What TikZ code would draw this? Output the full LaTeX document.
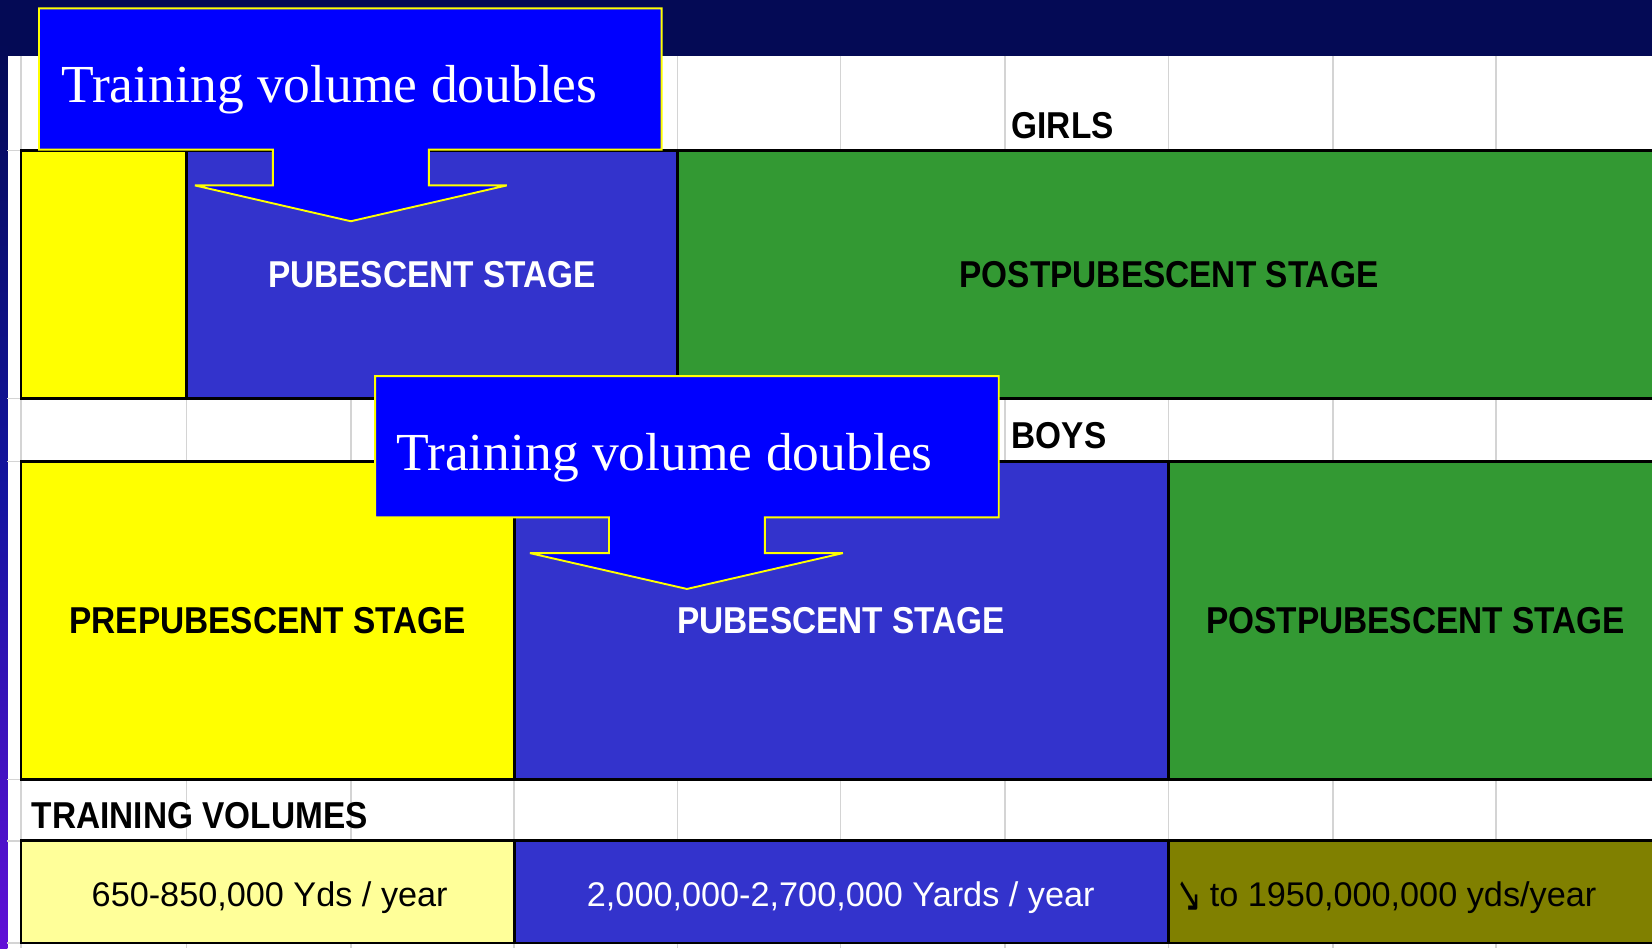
\documentclass[tikz,border=0pt]{standalone}
\usepackage{fontspec}
\usepackage{graphicx}
\setmainfont{Liberation Serif}
\newfontfamily\arialf{Liberation Sans}
\newfontfamily\symf{DejaVu Sans}
\definecolor{navy}{RGB}{4,10,85}
\definecolor{stageblue}{RGB}{51,51,204}
\definecolor{stagegreen}{RGB}{51,153,51}
\definecolor{lightyel}{RGB}{255,255,153}
\definecolor{olivec}{RGB}{128,128,0}
\definecolor{gridgray}{RGB}{212,212,212}
\definecolor{stripp}{RGB}{96,16,215}
\definecolor{stripm}{RGB}{20,20,160}
\definecolor{calloutblue}{RGB}{0,0,255}
\definecolor{pureyellow}{RGB}{255,255,0}
\newcommand{\tallb}[1]{\scalebox{1}[1.12]{#1}}
\tikzset{
  gridline/.style={gridgray, line width=1.4pt},
  cell/.style={draw=black, line width=2.6pt, anchor=north west, inner sep=0pt, outer sep=0pt,
    font=\arialf\bfseries\fontsize{31.7}{36}\selectfont},
  volcell/.style={draw=black, line width=2.6pt, anchor=north west, inner sep=0pt, outer sep=0pt},
  heading/.style={anchor=base west, inner sep=0pt, font=\arialf\bfseries\fontsize{31.7}{36}\selectfont},
  voltext/.style={anchor=base, inner sep=0pt, font=\arialf\fontsize{32.5}{38}\selectfont},
  callout/.style={fill=calloutblue, draw=pureyellow, line width=1.8pt, line join=miter, miter limit=1.5},
  callouttext/.style={anchor=base west, inner sep=0pt, text=white, font=\fontsize{50.8}{60}\selectfont}
}
\begin{document}
\begin{tikzpicture}[x=1pt, y=-1pt]
\useasboundingbox (0,0) rectangle (1568,900);
% background
\fill[navy] (0,0) rectangle (1568,53);
\fill[white] (7,53) rectangle (1568,900);
\shade[top color=navy, bottom color=stripp, middle color=stripm] (0,40) rectangle (7,900);
% grid
\foreach \x in {20,177,333,488,643,798,954,1109,1265,1420}
  \draw[gridline] (\x,53) -- (\x,900);
\foreach \y in {143,378,438,740,798,895}
  \draw[gridline] (7,\y) -- (1568,\y);
% headings
\node[heading] (girls) at (960,131) {\tallb{GIRLS}};
\node[heading] (boys) at (960,426) {\tallb{BOYS}};
\node[heading] (tv) at (30,786) {\tallb{TRAINING VOLUMES}};
% girls row
\node[cell, fill=pureyellow, minimum width=157, minimum height=235] (gpre) at (20,143) {};
\node[cell, fill=stageblue, text=white, minimum width=466, minimum height=235] (gpub) at (177,143) {\tallb{PUBESCENT STAGE}};
\node[cell, fill=stagegreen, text=black, minimum width=933, minimum height=235] (gpost) at (643,143) {\tallb{POSTPUBESCENT STAGE}};
% boys row
\node[cell, fill=pureyellow, text=black, minimum width=468, minimum height=302] (bpre) at (20,438) {\tallb{PREPUBESCENT STAGE}};
\node[cell, fill=stageblue, text=white, minimum width=621, minimum height=302] (bpub) at (488,438) {\tallb{PUBESCENT STAGE}};
\node[cell, fill=stagegreen, text=black, minimum width=469, minimum height=302] (bpost) at (1109,438) {\tallb{POSTPUBESCENT STAGE}};
% volumes row
\node[volcell, fill=lightyel, minimum width=468, minimum height=97] (v1) at (20,798) {};
\node[volcell, fill=stageblue, minimum width=621, minimum height=97] (v2) at (488,798) {};
\node[volcell, fill=olivec, minimum width=469, minimum height=97] (v3) at (1109,798) {};
\node[voltext, text=black] (t1) at (256,860) {650-850,000 Yds / year};
\node[voltext, text=white] (t2) at (798,860) {2,000,000-2,700,000 Yards / year};
\node[voltext, anchor=base west, text=black] (t3) at (1116,860) {\raisebox{-5pt}{\scalebox{0.9}[1.5]{\symf\fontsize{32}{36}\selectfont ↘}}\hspace{8pt}to 1950,000,000 yds/year};
% callout 1
\draw[callout] (37,8) -- (628,8) -- (628,142) -- (407,142) -- (407,176) -- (481,176) -- (333,210)
  -- (185,176) -- (259,176) -- (259,142) -- (37,142) -- cycle;
\node[callouttext] (c1) at (58,97) {Training volume doubles};
% callout 2
\draw[callout] (356,357) -- (948,357) -- (948,491) -- (726,491) -- (726,525) -- (800,525) -- (652,559)
  -- (503,525) -- (578,525) -- (578,491) -- (356,491) -- cycle;
\node[callouttext] (c2) at (376,447) {Training volume doubles};
\end{tikzpicture}
\end{document}
